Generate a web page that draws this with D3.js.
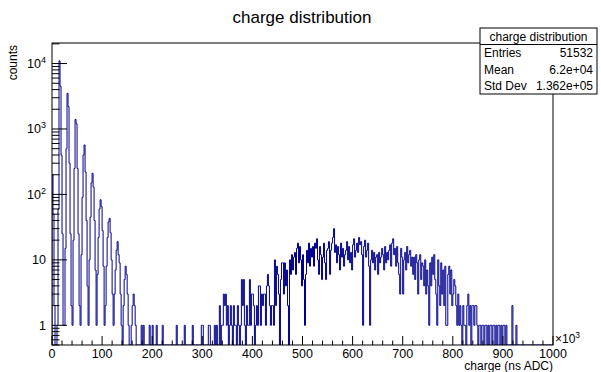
<!DOCTYPE html>
<html lang="en">
<head>
    <meta charset="UTF-8">
    <title>charge distribution</title>
    <script type="text/javascript" src="https://cdnjs.cloudflare.com/ajax/libs/d3/7.8.5/d3.min.js"></script>
    <style>
        body { margin: 0; background: #fff; }
        text { font-family: "Liberation Sans", Arial, sans-serif; fill: #000; }
    </style>
</head>
<body>
<div id="chart"></div>
<script>
    // histogram: 500 bins of 2k from 0 to 1000k (x axis in units of 10^3)
    var binWidth = 2;
    var counts = [
        200, 50, 2, 0, 0, 1, 60, 11000, 4500, 400,
        25, 1, 1, 15, 500, 3500, 2200, 300, 25, 2,
        1, 20, 250, 1400, 1200, 250, 25, 2, 1, 12,
        90, 400, 570, 220, 40, 4, 1, 10, 45, 150,
        210, 130, 40, 7, 1, 6, 22, 60, 83, 65,
        28, 8, 1, 2, 8, 22, 38, 43, 26, 10,
        3, 1, 3, 7, 14, 19, 12, 9, 3, 1,
        0, 2, 5, 8, 6, 3, 1, 0, 0, 1,
        2, 3, 2, 1, 0, 0, 0, 0, 0, 1,
        0, 1, 0, 0, 0, 0, 0, 1, 0, 0,
        1, 0, 0, 0, 1, 0, 0, 0, 0, 0,
        1, 0, 0, 0, 0, 0, 0, 0, 0, 0,
        0, 0, 0, 0, 1, 0, 0, 0, 0, 0,
        0, 0, 1, 0, 0, 0, 0, 0, 0, 0,
        1, 0, 0, 0, 0, 0, 0, 0, 0, 1,
        1, 0, 0, 0, 0, 0, 1, 1, 0, 0,
        0, 0, 1, 0, 1, 0, 0, 2, 0, 1,
        1, 3, 2, 3, 1, 2, 0, 1, 2, 1,
        0, 2, 1, 1, 0, 2, 1, 0, 1, 5,
        2, 5, 1, 0, 2, 1, 1, 5, 1, 3,
        3, 2, 0, 1, 2, 1, 4, 4, 1, 3,
        2, 3, 3, 1, 4, 6, 4, 2, 1, 2,
        2, 1, 10, 2, 8, 6, 3, 0, 5, 9,
        9, 3, 9, 4, 7, 2, 0, 10, 6, 12,
        7, 11, 13, 6, 15, 18, 9, 16, 10, 4,
        12, 5, 1, 6, 14, 9, 18, 8, 15, 11,
        16, 8, 18, 15, 21, 10, 6, 16, 12, 5,
        11, 18, 9, 5, 14, 15, 19, 6, 14, 18,
        22, 30, 13, 17, 9, 16, 12, 7, 18, 11,
        15, 8, 12, 14, 19, 10, 16, 9, 13, 7,
        17, 21, 11, 14, 18, 13, 22, 17, 19, 12,
        1, 16, 20, 11, 14, 18, 8, 1, 10, 14,
        9, 13, 7, 11, 12, 6, 13, 9, 11, 15,
        12, 7, 16, 9, 13, 10, 14, 17, 8, 18,
        21, 12, 15, 8, 16, 9, 6, 3, 15, 11,
        3, 10, 13, 7, 16, 9, 12, 14, 8, 11,
        6, 11, 5, 12, 9, 3, 10, 12, 5, 9,
        8, 4, 10, 3, 7, 4, 1, 9, 4, 11,
        6, 12, 5, 3, 1, 10, 4, 2, 9, 3,
        7, 2, 8, 1, 1, 6, 8, 3, 7, 2,
        3, 5, 4, 2, 1, 3, 1, 2, 1, 0,
        2, 1, 1, 0, 2, 3, 1, 2, 0, 2,
        2, 1, 2, 2, 1, 0, 1, 1, 0, 1,
        1, 0, 1, 1, 0, 1, 0, 1, 1, 0,
        1, 1, 0, 1, 0, 1, 1, 0, 1, 0,
        1, 1, 0, 1, 0, 0, 0, 0, 0, 2,
        0, 0, 0, 1, 0, 0, 0, 0, 0, 0,
        0, 0, 0, 0, 0, 0, 0, 0, 0, 0,
        0, 0, 0, 0, 0, 0, 0, 0, 0, 0,
        0, 0, 0, 0, 0, 0, 0, 0, 0, 0
    ];
    var xTicks = [0, 100, 200, 300, 400, 500, 600, 700, 800, 900, 1000];
    var yDecades = [1, 10, 100, 1000, 10000];
    var yLabels = ["1", "10", "10^2", "10^3", "10^4"];
    var statNames = ["Entries", "Mean", "Std Dev"];
    var statValues = ["51532", "6.2e+04", "1.362e+05"];

    var width = 601, height = 372;
    var margin = {top: 43, right: 48, bottom: 27, left: 52};

    var svg = d3.select("#chart")
        .append("svg")
        .attr("width", width)
        .attr("height", height);

    var x = d3.scaleLinear()
        .domain([0, 1000])
        .range([margin.left, width - margin.right]);

    var y = d3.scaleLog()
        .domain([0.5, 20600])
        .range([height - margin.bottom, margin.top]);

    var x0 = x.range()[0], x1 = x.range()[1];
    var y0 = y.range()[0], y1 = y.range()[1];

    svg.append("clipPath").attr("id", "frame")
        .append("rect")
        .attr("x", x0).attr("y", y1)
        .attr("width", x1 - x0).attr("height", y0 - y1);

    // histogram as a step line, empty bins drop to the frame bottom
    function yv(v) { return v > 0 ? y(v) : y0; }
    var pts = [[0, y0]];
    counts.forEach(function(v, i) {
        pts.push([i * binWidth, yv(v)]);
        pts.push([(i + 1) * binWidth, yv(v)]);
    });
    pts.push([counts.length * binWidth, y0]);

    svg.append("path")
        .attr("clip-path", "url(#frame)")
        .attr("d", d3.line().x(function(d) { return x(d[0]); }).y(function(d) { return d[1]; })(pts))
        .attr("fill", "none")
        .attr("stroke", "#00008f")
        .attr("stroke-width", 1);

    // frame
    svg.append("rect")
        .attr("x", x0).attr("y", y1)
        .attr("width", x1 - x0).attr("height", y0 - y1)
        .attr("fill", "none")
        .attr("stroke", "#000")
        .attr("stroke-width", 1);

    // x axis ticks (major every 100, minor every 20)
    var xMinor = d3.range(0, 1001, 20);
    svg.append("g").selectAll("line")
        .data(xMinor)
        .enter().append("line")
        .attr("x1", function(d) { return x(d); })
        .attr("x2", function(d) { return x(d); })
        .attr("y1", y0)
        .attr("y2", function(d) { return d % 100 === 0 ? y0 - 9 : y0 - 4.5; })
        .attr("stroke", "#000");

    svg.append("g").selectAll("text")
        .data(xTicks)
        .enter().append("text")
        .attr("x", function(d) { return x(d); })
        .attr("y", y0 + 12.5)
        .attr("text-anchor", "middle")
        .style("font-size", "12.5px")
        .text(function(d) { return d; });

    // y axis ticks: decades long, 2..9 short
    var yMinor = [];
    [0.1, 1, 10, 100, 1000, 10000].forEach(function(dec) {
        for (var m = 1; m <= 9; m++) {
            var v = dec * m;
            if (v >= 0.5 && v <= 20600) yMinor.push(v);
        }
    });
    svg.append("g").selectAll("line")
        .data(yMinor)
        .enter().append("line")
        .attr("x1", x0)
        .attr("x2", function(d) { return yDecades.indexOf(d) >= 0 ? x0 + 15 : x0 + 7.5; })
        .attr("y1", function(d) { return y(d); })
        .attr("y2", function(d) { return y(d); })
        .attr("stroke", "#000");

    var yl = svg.append("g").selectAll("text")
        .data(yDecades)
        .enter().append("text")
        .attr("x", x0 - 6)
        .attr("y", function(d) { return y(d) + 4.5; })
        .attr("text-anchor", "end")
        .style("font-size", "12.5px");
    yl.each(function(d, i) {
        var parts = yLabels[i].split("^");
        var t = d3.select(this);
        t.append("tspan").text(parts[0]);
        if (parts[1]) {
            t.append("tspan").attr("dy", -5).style("font-size", "9px").text(parts[1]);
        }
    });

    // titles
    svg.append("text")
        .attr("x", 302).attr("y", 23)
        .attr("text-anchor", "middle")
        .style("font-size", "17px")
        .text("charge distribution");

    svg.append("text")
        .attr("transform", "translate(17," + (y1 + 2) + ") rotate(-90)")
        .attr("text-anchor", "end")
        .style("font-size", "12px")
        .text("counts");

    svg.append("text")
        .attr("x", x1).attr("y", height - 2)
        .attr("text-anchor", "end")
        .style("font-size", "12px")
        .text("charge (ns ADC)");

    var mult = svg.append("text")
        .attr("x", x1 + 2).attr("y", y0 - 2)
        .style("font-size", "12px");
    mult.append("tspan").text("\u00d710");
    mult.append("tspan").attr("dy", -5).style("font-size", "8.5px").text("3");

    // stats box
    var bx = 480, by = 28, bw = 117, rowH = 16.5;
    var box = svg.append("g");
    box.append("rect")
        .attr("x", bx).attr("y", by)
        .attr("width", bw).attr("height", rowH * 4)
        .attr("fill", "#fff").attr("stroke", "#000");
    box.append("line")
        .attr("x1", bx).attr("x2", bx + bw)
        .attr("y1", by + rowH).attr("y2", by + rowH)
        .attr("stroke", "#000");
    box.append("text")
        .attr("x", bx + bw / 2).attr("y", by + rowH - 4)
        .attr("text-anchor", "middle")
        .style("font-size", "12px")
        .text("charge distribution");
    statNames.forEach(function(n, i) {
        box.append("text")
            .attr("x", bx + 4).attr("y", by + rowH * (i + 2) - 4)
            .style("font-size", "12px")
            .text(n);
        box.append("text")
            .attr("x", bx + bw - 4).attr("y", by + rowH * (i + 2) - 4)
            .attr("text-anchor", "end")
            .style("font-size", "12px")
            .text(statValues[i]);
    });
</script>
</body>
</html>
